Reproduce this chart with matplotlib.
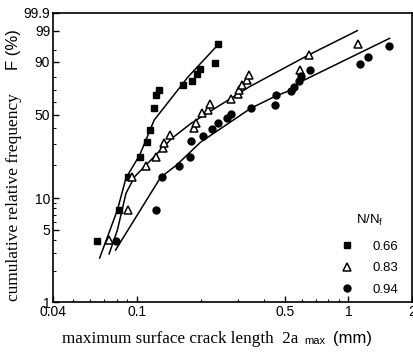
import numpy as np
import matplotlib
matplotlib.use("Agg")
import matplotlib.pyplot as plt
from matplotlib.ticker import FixedLocator, FixedFormatter, NullFormatter

# ---------------- data ----------------
# N/Nf = 0.66 (filled squares)
sq_x = [0.0647, 0.0822, 0.0903, 0.1029, 0.1111, 0.1150, 0.1202, 0.1228, 0.1267,
        0.1648, 0.1822, 0.192, 0.1988, 0.2328, 0.2427]
sq_F = [3.9, 7.7, 15.6, 23.3, 31.4, 38.8, 55.4, 66.1, 70.2,
        74.2, 77.6, 82.1, 85.6, 89.1, 96.7]
# N/Nf = 0.83 (open triangles)
tr_x = [0.0734, 0.0903, 0.0945, 0.1103, 0.1225, 0.1324, 0.1338, 0.1426, 0.1861,
        0.19, 0.2039, 0.2167, 0.2225, 0.279, 0.2987, 0.305, 0.3131, 0.33, 0.3388,
        0.5896, 0.648, 1.106]
tr_F = [3.96, 7.81, 15.6, 19.5, 23.5, 27.7, 30.8, 35.5, 40.1,
        43.5, 51.4, 53.7, 58.6, 62.8, 66.9, 70.6, 74.2, 78.1, 81.7,
        85.1, 93.1, 96.7]
# N/Nf = 0.94 (filled circles)
ci_x = [0.0793, 0.1225, 0.1305, 0.1577, 0.178, 0.1803, 0.2051, 0.2265, 0.2427,
        0.2652, 0.2784, 0.3449, 0.4487, 0.4535, 0.534, 0.5535, 0.5834, 0.5976,
        0.6548, 1.1335, 1.24, 1.549]
ci_F = [3.91, 7.73, 15.6, 19.35, 23.4, 31.5, 34.85, 39.25, 43.35,
        47.2, 50.95, 55.1, 57.8, 65.9, 69.7, 72.7, 77.4, 81.0,
        84.8, 88.5, 92.1, 96.2]

# fitted curves
fit_sq_x = [0.0665, 0.0807, 0.0886, 0.1029, 0.1205, 0.1741, 0.2427]
fit_sq_F = [2.68, 7.73, 15.28, 24.33, 45.9, 80.3, 96.7]
fit_tr_x = [0.0737, 0.0807, 0.0886, 0.0974, 0.1103, 0.1461, 0.1803, 0.3388, 0.648, 1.102]
fit_tr_F = [2.93, 4.99, 11.07, 15.7, 19.94, 33.4, 43.5, 72.7, 93.1, 99.03]
fit_ci_x = [0.0791, 0.1291, 0.1539, 0.2002, 0.3449, 0.4487, 0.534, 0.5916, 1.568]
fit_ci_F = [3.20, 15.44, 19.94, 31.2, 55.1, 64.9, 70.2, 76.6, 97.97]

legend_labels = ["0.66", "0.83", "0.94"]

xticks = [0.04, 0.1, 0.5, 1, 2]
xticklabels = ["0.04", "0.1", "0.5", "1", "2"]
yticks = [1, 5, 10, 50, 90, 99, 99.9]
yticklabels = ["1", "5", "10", "50", "90", "99", "99.9"]
yminor = [2, 3, 4, 6, 7, 8, 9, 20, 30, 40, 60, 70, 80, 95]

# ---------------- Weibull probability scale ----------------
def fwd(F):
    F = np.clip(np.asarray(F, dtype=float), 1e-6, 99.99999)
    return np.log(-np.log(1.0 - F / 100.0))

def inv(w):
    w = np.asarray(w, dtype=float)
    return 100.0 * (1.0 - np.exp(-np.exp(w)))

SANS = "Liberation Sans"
SERIF = "Liberation Serif"
plt.rcParams['font.family'] = SANS

fig = plt.figure(figsize=(4.14, 3.54), dpi=100)
ax = fig.add_axes([53/414, 1-302/354, (412-53)/414, (302-13)/354])

ax.set_xscale('log')
ax.set_yscale('function', functions=(fwd, inv))
ax.set_xlim(0.04, 2)
ax.set_ylim(1, 99.9)

lw = 1.1
ax.plot(fit_sq_x, fit_sq_F, color='black', lw=lw)
ax.plot(fit_tr_x, fit_tr_F, color='black', lw=lw)
ax.plot(fit_ci_x, fit_ci_F, color='black', lw=lw)

h1, = ax.plot(sq_x, sq_F, ls='none', marker='s', ms=5, mfc='black', mec='black')
h2, = ax.plot(tr_x, tr_F, ls='none', marker='^', ms=5.5, mfc='white', mec='black', mew=1.1)
h3, = ax.plot(ci_x, ci_F, ls='none', marker='o', ms=5, mfc='black', mec='black')

ax.xaxis.set_major_locator(FixedLocator(xticks))
ax.xaxis.set_major_formatter(FixedFormatter(xticklabels))
xminor = [v * m for v in (0.01, 0.1, 1) for m in range(2, 10)]
ax.xaxis.set_minor_locator(FixedLocator([v for v in xminor if 0.04 <= v <= 2]))
ax.xaxis.set_minor_formatter(NullFormatter())
ax.yaxis.set_major_locator(FixedLocator(yticks))
ax.yaxis.set_major_formatter(FixedFormatter(yticklabels))
ax.yaxis.set_minor_locator(FixedLocator(yminor))
ax.yaxis.set_minor_formatter(NullFormatter())

ax.tick_params(which='both', direction='in', top=False, right=False)
ax.tick_params(which='major', length=4, width=1, labelsize=10, pad=2)
ax.tick_params(which='minor', length=2.5, width=0.8)
for s in ax.spines.values():
    s.set_linewidth(1.2)

leg = ax.legend([h1, h2, h3], legend_labels, title="N/N$_\\mathregular{f}$",
                loc='lower right', bbox_to_anchor=(0.985, -0.005), frameon=False,
                fontsize=9.5, title_fontsize=9.5, handletextpad=1.5,
                labelspacing=0.68, handlelength=1.0, borderaxespad=0.2)
leg._legend_box.sep = 9

# axis labels (mixed fonts, as in the original)
fig.text(62/414, 1-339/354, "maximum surface crack length  2a", family=SERIF,
         fontsize=12.3, ha='left', va='center')
fig.text(304/414, 1-341/354, "max", family=SANS, fontsize=8, ha='left', va='center')
fig.text(333/414, 1-338/354, "(mm)", family=SANS, fontsize=12, ha='left', va='center')

fig.text(14/414, 1-301/354, "cumulative relative frequency", family=SERIF,
         fontsize=12.5, rotation=90, ha='center', va='bottom')
fig.text(14/414, 1-70/354, "F (%)", family=SANS, fontsize=12,
         rotation=90, ha='center', va='bottom')

fig.savefig("out.png", dpi=100)
